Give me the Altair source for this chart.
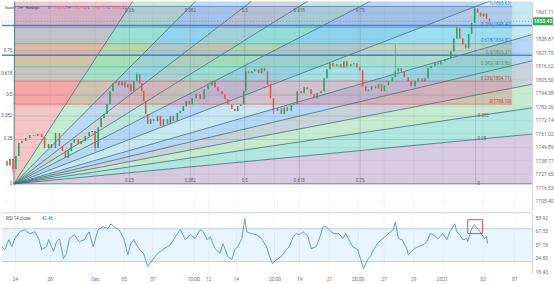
import altair as alt
import pandas as pd

# ---------------- values ----------------
candle_bar = [2, 5, 8, 11, 14, 17, 20, 24, 28, 32, 36, 40, 43, 47, 50, 54, 58, 61, 64, 67,
              70, 73, 77, 80, 84, 88, 91, 94, 97, 100, 103, 106, 109, 112, 115, 118, 121, 124, 127, 130,
              133, 136, 139, 141, 143, 145, 147, 150, 153, 157, 160, 163, 167, 170, 173, 177, 180, 183, 186, 189,
              192, 196, 200, 204, 208, 212, 215, 218, 222, 225, 228, 232, 235, 238, 241, 244, 246, 249, 252, 255,
              259, 262, 265, 268, 271, 274, 278, 282, 285, 288, 292, 295, 298, 302, 305, 308, 312, 315, 318, 322,
              325, 328, 331, 334, 338, 342, 345, 348, 352, 355, 358, 361, 364, 367, 370, 373, 377, 380, 383, 386,
              390, 394, 397, 400, 403, 406, 410, 413, 417, 420, 424, 427, 430, 433, 437, 440, 443, 447, 450, 453,
              456, 459, 462, 465, 468, 471, 474, 477, 480, 483, 486, 489, 492]
candle_close = [1738.3, 1734.2, 1739.9, 1731.7, 1742.4, 1753.1, 1754.7, 1757.2, 1759.6, 1758.8, 1760.5, 1758.0, 1748.9, 1752.2, 1748.9, 1761.3, 1750.6, 1746.5, 1740.7, 1746.5,
                1753.1, 1756.3, 1752.2, 1754.7, 1758.8, 1762.1, 1762.9, 1748.9, 1766.0, 1773.6, 1776.9, 1785.1, 1795.8, 1802.4, 1804.0, 1800.7, 1804.0, 1799.1, 1801.5, 1795.8,
                1804.0, 1809.7, 1802.4, 1795.8, 1787.6, 1776.9, 1768.7, 1772.8, 1771.1, 1775.2, 1767.0, 1772.8, 1768.7, 1775.2, 1771.1, 1777.7, 1779.4, 1783.5, 1787.6, 1785.1,
                1790.0, 1793.3, 1789.2, 1797.4, 1800.7, 1804.0, 1799.1, 1795.8, 1793.3, 1789.2, 1785.1, 1781.0, 1779.4, 1783.5, 1785.1, 1795.8, 1812.0, 1810.6, 1812.2, 1813.9,
                1810.6, 1814.7, 1812.2, 1801.5, 1790.0, 1779.4, 1781.8, 1776.9, 1782.6, 1779.4, 1784.3, 1785.1, 1795.8, 1794.2, 1799.1, 1797.4, 1793.3, 1790.0, 1794.2, 1795.8,
                1806.5, 1813.9, 1818.8, 1816.3, 1818.0, 1815.5, 1820.4, 1816.3, 1818.0, 1818.8, 1815.5, 1813.0, 1799.9, 1795.8, 1797.0, 1799.9, 1798.2, 1801.5, 1795.8, 1800.7,
                1804.0, 1807.3, 1812.0, 1814.7, 1812.2, 1807.3, 1804.0, 1799.9, 1804.0, 1806.5, 1804.0, 1806.5, 1814.7, 1816.3, 1818.8, 1818.0, 1820.4, 1822.1, 1822.9, 1828.7,
                1839.3, 1847.6, 1839.3, 1834.4, 1831.1, 1843.0, 1852.0, 1864.0, 1860.5, 1857.4, 1859.9, 1855.5, 1853.4]
wick_high = {136: 1811.5, 246: 1816.3, 397: 1834.4, 459: 1849.5, 477: 1865.8}
wick_low = {11: 1729.0, 94: 1746.5, 274: 1777.0}

rsi_bar = [0, 3, 7, 10, 13, 18, 23, 28, 33, 37, 40, 45, 47, 52, 55, 58, 62, 65, 68, 73,
           78, 83, 88, 92, 97, 102, 107, 110, 113, 118, 123, 127, 130, 133, 138, 143, 147, 152, 157, 162,
           167, 170, 173, 177, 180, 185, 190, 195, 200, 203, 207, 210, 215, 220, 223, 228, 232, 235, 238, 242,
           245, 247, 252, 257, 262, 267, 270, 273, 277, 282, 287, 290, 294, 297, 300, 304, 309, 312, 317, 320,
           324, 327, 330, 335, 340, 344, 347, 350, 354, 359, 362, 365, 369, 372, 375, 379, 384, 389, 392, 395,
           397, 400, 404, 409, 410, 415, 420, 425, 429, 432, 435, 440, 445, 449, 452, 457, 459, 462, 465, 469,
           470, 474, 477, 480, 484, 487, 489, 490]
rsi_val = [48.1, 44.5, 56.6, 48.1, 57.9, 66.3, 68.8, 63.9, 66.3, 57.9, 44.5, 48.1, 56.6, 42.1, 54.2, 57.9, 33.6, 39.7, 57.9, 62.7,
           54.2, 56.6, 66.3, 48.1, 68.8, 72.4, 70.0, 76.0, 72.4, 68.8, 57.9, 38.4, 51.8, 56.6, 45.7, 39.7, 23.9, 32.4, 39.7, 44.5,
           48.1, 50.6, 56.6, 63.9, 68.8, 56.6, 62.7, 57.9, 68.8, 66.3, 56.6, 60.3, 45.7, 39.7, 51.8, 36.0, 32.4, 44.5, 48.1, 57.9,
           82.1, 66.3, 63.9, 62.7, 57.9, 48.1, 36.0, 27.5, 32.4, 36.0, 44.5, 48.1, 60.3, 63.9, 62.7, 66.3, 60.3, 45.7, 48.1, 56.6,
           72.4, 72.4, 68.8, 63.9, 63.9, 57.9, 63.9, 56.6, 48.1, 44.5, 32.4, 21.5, 32.4, 36.0, 44.5, 51.8, 57.9, 62.7, 66.3, 68.8,
           78.5, 57.9, 56.6, 44.5, 38.4, 44.5, 48.1, 50.6, 54.2, 63.9, 62.7, 57.9, 63.9, 56.6, 66.3, 76.0, 66.3, 62.7, 56.6, 57.9,
           54.2, 70.0, 74.8, 70.0, 63.9, 57.9, 60.3, 51.8]
rsi_last = "42.46"

price_ticks = [1705.40, 1716.53, 1727.65, 1738.77, 1749.89, 1761.02, 1772.14, 1783.26,
               1794.38, 1805.50, 1816.62, 1827.75, 1838.87, 1861.11]
rsi_ticks = [18.43, 34.80, 51.18, 67.55, 83.92]
time_tick_bar = [13, 48, 94, 123, 152, 193, 208, 236, 275, 300, 330, 359, 385, 415, 444, 485, 517]
time_tick_label = ["24", "28", "Dec", "05", "07", "10:00", "12", "14", "20:00", "19", "21",
                   "20:00", "27", "29", "2021", "03", "07"]

fan_start_bar, fan_start_price = 12, 1719.37
fan_end_bar, fan_end_price = 478, 1865.63
fan_levels = [0.25, 0.382, 0.5, 0.618, 0.75]
fan_sector_colors = ["#7b4f9d", "#00ac98", "#3ebc62", "#48708a", "#127dda", "#48b4e1",
                     "#127dda", "#1fae8a", "#5a7a88", "#1a86dd", "#3ebc62", "#de4141"]

fib_start_bar, fib_end_bar = 12, 515
fib_low_price, fib_high_price = 1785.10, 1865.63
fib_levels = [0, 0.236, 0.382, 0.5, 0.618, 0.786, 1]
fib_band_colors = ["#f23645", "#26c6a0", "#4caf50", "#8a8a3c", "#00bcd4", "#5c6bc0"]
fib_label_colors = ["#c0392b", "#d04040", "#3a9a50", "#3a9a50", "#2f7ed8", "#2f7ed8", "#2f7ed8"]

hline_prices = [1850.0, 1825.4]
last_price = 1853.42
rsi_band = [30, 70]
rsi_box_bar = [470, 485]
rsi_box_val = [64.0, 80.9]

legend_symbol = "Gold · 1H · Rotogo"
legend_ohlc = [("O", "1755.52"), ("H", "1757.52"), ("L", "1751.12"), ("C", "1751.42")]

# ---------------- layout / style ----------------
W = 532
H_MAIN = 210
H_RSI = 61
X_DOMAIN = [0, 535]
PRICE_DOMAIN = [1697.18, 1869.74]
RSI_DOMAIN = [15.4, 89.4]
GREEN = "#2e9e5e"
RED = "#e0524f"
FONT = "Roboto"

x_scale = alt.Scale(domain=X_DOMAIN, nice=False, zero=False)
p_scale = alt.Scale(domain=PRICE_DOMAIN, nice=False, zero=False)
r_scale = alt.Scale(domain=RSI_DOMAIN, nice=False, zero=False)

x_axis_main = alt.Axis(values=time_tick_bar, labels=False, ticks=False, domain=False, grid=True,
                       gridColor="#ececec", gridWidth=0.6, title=None)
p_axis = alt.Axis(orient="right", values=price_ticks, format=".2f", ticks=False, domain=True,
                  domainColor="#d4d4d4", grid=True, gridColor="#ececec", gridWidth=0.6,
                  labelPadding=3, labelFontSize=5, labelColor="#6f6f6f", title=None)

labels_js = "[" + ",".join("'" + t + "'" for t in time_tick_label) + "]"
vals_js = "[" + ",".join(str(v) for v in time_tick_bar) + "]"
x_axis_rsi = alt.Axis(values=time_tick_bar, labelExpr=labels_js + "[indexof(" + vals_js + ", datum.value)]",
                      ticks=False, domain=False, grid=True, gridColor="#ececec", gridWidth=0.6,
                      labelPadding=3, labelFontSize=5, labelColor="#6f6f6f", title=None)
r_axis = alt.Axis(orient="right", values=rsi_ticks, format=".2f", ticks=False, domain=True,
                  domainColor="#d4d4d4", grid=False, labelPadding=3, labelFontSize=5,
                  labelColor="#6f6f6f", title=None)


def X(f):
    return alt.X(f + ":Q", scale=x_scale, axis=x_axis_main)


def Y(f):
    return alt.Y(f + ":Q", scale=p_scale, axis=p_axis, stack=None)


def XR(f):
    return alt.X(f + ":Q", scale=x_scale, axis=x_axis_rsi)


def YR(f):
    return alt.Y(f + ":Q", scale=r_scale, axis=r_axis, stack=None)


# ---------------- derived tables ----------------
opens = [candle_close[0]] + candle_close[:-1]
candles = pd.DataFrame({
    "bar": candle_bar,
    "open": opens,
    "close": candle_close,
})
candles["high"] = [wick_high.get(b, max(o, c)) for b, o, c in zip(candle_bar, opens, candle_close)]
candles["low"] = [wick_low.get(b, min(o, c)) for b, o, c in zip(candle_bar, opens, candle_close)]
candles["dir"] = ["up" if c >= o else "down" for o, c in zip(opens, candle_close)]

x0, P0 = fan_start_bar, fan_start_price
fH = fan_end_price - fan_start_price
fW = fan_end_bar - fan_start_bar
X_FAR = X_DOMAIN[1]
price_slopes = [l * fH / fW for l in [0] + fan_levels + [1]]
time_slopes = [fH / (l * fW) for l in sorted(fan_levels, reverse=True)]
slopes = price_slopes + time_slopes + [200.0]

sec_rows = []
for i in range(len(slopes) - 1):
    lo, hi = slopes[i], slopes[i + 1]
    for xb in (x0, X_FAR):
        sec_rows.append({"sector": i, "bar": xb, "lo": P0 + lo * (xb - x0), "hi": P0 + hi * (xb - x0),
                         "color": fan_sector_colors[i]})
sectors = pd.DataFrame(sec_rows)

line_rows = []
cap = P0 + 3 * fH
for s in slopes:
    y_far = P0 + s * (X_FAR - x0)
    if y_far <= cap:
        line_rows.append({"x": x0, "y": P0, "x2": X_FAR, "y2": y_far})
    else:
        line_rows.append({"x": x0, "y": P0, "x2": x0 + (cap - P0) / s, "y2": cap})
fan_lines = pd.DataFrame(line_rows)

grid_rows = []
for l in fan_levels + [1]:
    grid_rows.append({"x": x0, "x2": fan_end_bar, "y": P0 + l * fH, "y2": P0 + l * fH})
    grid_rows.append({"x": x0 + l * fW, "x2": x0 + l * fW, "y": P0, "y2": fan_end_price})
fan_grid = pd.DataFrame(grid_rows)

fan_lab_left = pd.DataFrame({"x": [x0] * 6, "y": [P0 + l * fH for l in [0] + fan_levels],
                             "t": [str(l) for l in [0] + fan_levels]})
fan_lab_bottom = pd.DataFrame({"x": [x0 + l * fW for l in fan_levels], "y": [P0] * 5,
                               "t": [str(l) for l in fan_levels]})
fan_lab_top = pd.DataFrame({"x": [x0 + l * fW for l in fan_levels], "y": [fan_end_price] * 5,
                            "t": [str(l) for l in fan_levels]})
fan_lab_right = pd.DataFrame({"x": [fan_end_bar] * 3, "y": [P0 + l * fH for l in [0, 0.25, 0.382]],
                              "t": ["0", "0.25", "0.382"]})

fib_prices = [fib_low_price + l * (fib_high_price - fib_low_price) for l in fib_levels]
fib_bands = pd.DataFrame({"x": [fib_start_bar] * 6, "x2": [fib_end_bar] * 6,
                          "lo": fib_prices[:-1], "hi": fib_prices[1:], "color": fib_band_colors})
fib_lines = pd.DataFrame({"x": [fib_start_bar] * 7, "x2": [fib_end_bar] * 7, "y": fib_prices,
                          "color": [fib_band_colors[0]] + fib_band_colors})
fib_labels = pd.DataFrame({"x": [fib_end_bar] * 7, "y": fib_prices,
                           "t": [f"{l}({p:.2f})" for l, p in zip(fib_levels, fib_prices)],
                           "color": fib_label_colors})

hlines = pd.DataFrame({"y": hline_prices})
lastp = pd.DataFrame({"y": [last_price], "lo": [last_price - 3.3], "hi": [last_price + 3.3],
                      "t": [f"{last_price:.2f}"]})

rsi_df = pd.DataFrame({"bar": rsi_bar, "rsi": rsi_val})
band_df = pd.DataFrame({"lo": [rsi_band[0]], "hi": [rsi_band[1]]})
band_lines = pd.DataFrame({"y": rsi_band})
box_df = pd.DataFrame({"x": [rsi_box_bar[0]], "x2": [rsi_box_bar[1]],
                       "y": [rsi_box_val[0]], "y2": [rsi_box_val[1]]})
one = pd.DataFrame({"k": [0]})

# ---------------- main panel ----------------
col = alt.Color("color:N", scale=None, legend=None)

sector_layer = alt.Chart(sectors).mark_area(clip=True, opacity=0.3, interpolate="linear").encode(
    x=X("bar"), y=Y("lo"), y2="hi", color=col, detail="sector:N")
fib_band_layer = alt.Chart(fib_bands).mark_rect(opacity=0.22).encode(
    x=X("x"), x2="x2", y=Y("lo"), y2="hi", color=col)
fan_grid_layer = alt.Chart(fan_grid).mark_rule(color="#7d8f96", strokeWidth=0.5, opacity=0.7).encode(
    x=X("x"), x2="x2", y=Y("y"), y2="y2")
fib_line_layer = alt.Chart(fib_lines).mark_rule(strokeWidth=0.7, opacity=0.8).encode(
    x=X("x"), x2="x2", y=Y("y"), color=col)
fan_line_layer = alt.Chart(fan_lines).mark_rule(clip=True, color="#456c78", strokeWidth=0.8).encode(
    x=X("x"), x2="x2", y=Y("y"), y2="y2")
hline_layer = alt.Chart(hlines).mark_rule(color="#2f7ed8", strokeWidth=1.6, opacity=0.9).encode(y=Y("y"))
last_layer = alt.Chart(lastp).mark_rule(color="#3d8fd6", strokeWidth=0.7, strokeDash=[1, 2]).encode(y=Y("y"))

dir_col = alt.Color("dir:N", scale=alt.Scale(domain=["up", "down"], range=[GREEN, RED]), legend=None)
wick_layer = alt.Chart(candles).mark_rule(strokeWidth=0.6).encode(
    x=X("bar"), y=Y("low"), y2="high", color=dir_col)
body_layer = alt.Chart(candles).mark_rule(strokeWidth=1.5).encode(
    x=X("bar"), y=Y("open"), y2="close", color=dir_col)

lab_style = dict(font=FONT, fontSize=4.5, color="#56646a")
fan_left = alt.Chart(fan_lab_left).mark_text(align="right", baseline="middle", dx=-1.5, **lab_style).encode(
    x=X("x"), y=Y("y"), text="t:N")
fan_bottom = alt.Chart(fan_lab_bottom).mark_text(align="center", baseline="bottom", dy=-1, **lab_style).encode(
    x=X("x"), y=Y("y"), text="t:N")
fan_top = alt.Chart(fan_lab_top).mark_text(align="center", baseline="top", dy=2, **lab_style).encode(
    x=X("x"), y=Y("y"), text="t:N")
fan_right = alt.Chart(fan_lab_right).mark_text(align="left", baseline="middle", dx=2, **lab_style).encode(
    x=X("x"), y=Y("y"), text="t:N")
fib_lab = alt.Chart(fib_labels).mark_text(align="right", baseline="bottom", dx=-1, dy=-0.5,
                                          font=FONT, fontSize=4.5).encode(
    x=X("x"), y=Y("y"), text="t:N", color=col)

legend_marks = [alt.Chart(one).mark_text(text=legend_symbol, align="left", baseline="middle", font=FONT,
                                         fontSize=4.3, color="#3a3a3a").encode(x=alt.value(3), y=alt.value(7))]
lx = 46
for letter, val in legend_ohlc:
    legend_marks.append(alt.Chart(one).mark_text(text=letter, align="left", baseline="middle", font=FONT,
                                                 fontSize=4.3, color="#555555").encode(x=alt.value(lx), y=alt.value(7)))
    legend_marks.append(alt.Chart(one).mark_text(text=val, align="left", baseline="middle", font=FONT,
                                                 fontSize=4.3, color="#e05555").encode(x=alt.value(lx + 4), y=alt.value(7)))
    lx += 20

badge_rect = alt.Chart(lastp).mark_rect(color="#2eaa57", clip=False).encode(
    x=alt.value(W + 1), x2=alt.value(W + 21), y=Y("lo"), y2="hi")
badge_text = alt.Chart(lastp).mark_text(color="white", font=FONT, fontSize=5, fontWeight="bold",
                                        align="center", baseline="middle").encode(
    x=alt.value(W + 11), y=Y("y"), text="t:N")

main = alt.layer(sector_layer, fib_band_layer, fan_grid_layer, fib_line_layer, fan_line_layer,
                 hline_layer, last_layer, wick_layer, body_layer, fan_left, fan_bottom, fan_top,
                 fan_right, fib_lab, *legend_marks, badge_rect, badge_text).properties(width=W, height=H_MAIN)

# ---------------- RSI panel ----------------
band_layer = alt.Chart(band_df).mark_rect(color="#2196f3", opacity=0.1).encode(
    x=alt.value(0), x2=alt.value(W), y=YR("lo"), y2="hi")
band_rules = alt.Chart(band_lines).mark_rule(color="#9bb7d4", strokeWidth=0.6).encode(y=YR("y"))
sep = alt.Chart(one).mark_rule(color="#c8c8c8", strokeWidth=0.8).encode(
    x=alt.value(0), x2=alt.value(W), y=alt.value(0))
rsi_line = alt.Chart(rsi_df).mark_line(color="#4a8fd8", strokeWidth=0.9).encode(x=XR("bar"), y=YR("rsi"))
box = alt.Chart(box_df).mark_rect(fill=None, fillOpacity=0, stroke="#e04b4b", strokeWidth=1).encode(
    x=XR("x"), x2="x2", y=YR("y"), y2="y2")
rsi_leg1 = alt.Chart(one).mark_text(text="RSI 14 close", align="left", baseline="middle", font=FONT,
                                    fontSize=4.5, color="#555555").encode(x=alt.value(4), y=alt.value(6))
rsi_leg2 = alt.Chart(one).mark_text(text=rsi_last, align="left", baseline="middle", font=FONT,
                                    fontSize=4.5, color="#2a7ae2").encode(x=alt.value(40), y=alt.value(6))

rsi = alt.layer(band_layer, band_rules, rsi_line, box, sep, rsi_leg1, rsi_leg2).properties(width=W, height=H_RSI)

chart = alt.vconcat(main, rsi, spacing=1).properties(
    padding={"left": 0, "top": 0, "right": 0, "bottom": 0}, background="white"
).configure_view(stroke=None).configure_axis(labelFont=FONT)

chart.save("out.html", embed_options={"renderer": "svg", "actions": False})
